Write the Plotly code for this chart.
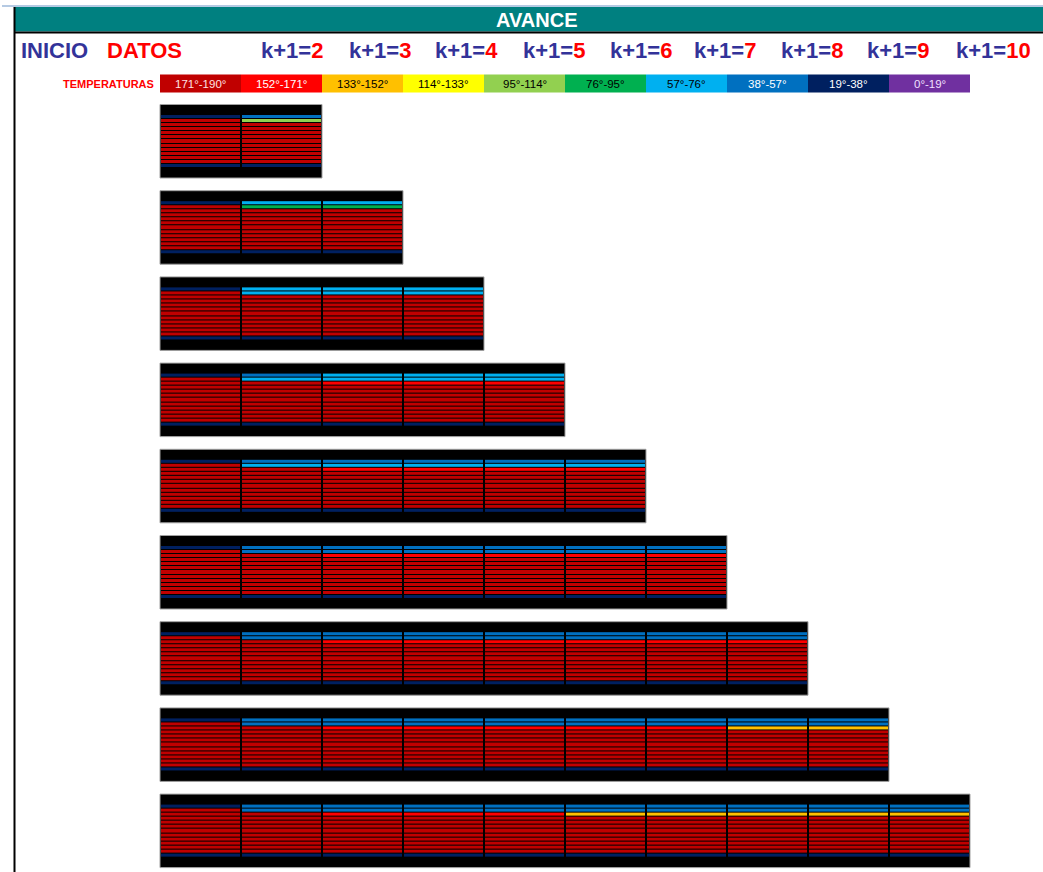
import plotly.graph_objects as go

# ---------------- data ----------------
legend_labels = ["171°-190°", "152°-171°", "133°-152°", "114°-133°", "95°-114°",
                 "76°-95°", "57°-76°", "38°-57°", "19°-38°", "0°-19°"]
legend_colors = ["#C00000", "#FF0000", "#FFC000", "#FFFF00", "#92D050",
                 "#00B050", "#00B0F0", "#0070C0", "#002060", "#7030A0"]
legend_text_colors = ["#FFE0E0", "#FFFFFF", "#000000", "#000000", "#000000",
                      "#000000", "#000000", "#FFFFFF", "#FFFFFF", "#F0E0FF"]

step_labels = ["2", "3", "4", "5", "6", "7", "8", "9", "10"]

# category index per cell (0 = 171-190 ... 9 = 0-19); only the top three rows vary,
# the remaining interior rows stay 171-190 and the last row stays 19-38
initial_top = [8, 0, 0]
block_top_rows = [
    [initial_top, [7, 4, 0]],
    [initial_top, [6, 5, 0], [6, 5, 0]],
    [initial_top, [6, 6, 0], [6, 6, 0], [6, 6, 0]],
    [initial_top, [7, 6, 0], [6, 6, 1], [6, 6, 1], [6, 6, 1]],
    [initial_top, [7, 6, 0], [7, 6, 1], [7, 6, 1], [7, 6, 1], [7, 6, 1]],
    [initial_top, [7, 7, 0], [7, 7, 1], [7, 7, 1], [7, 7, 1], [7, 7, 1], [7, 7, 1]],
    [initial_top, [7, 7, 0], [7, 7, 1], [7, 7, 1], [7, 7, 1], [7, 7, 1], [7, 7, 1], [7, 7, 1]],
    [initial_top, [7, 7, 0], [7, 7, 1], [7, 7, 1], [7, 7, 1], [7, 7, 1], [7, 7, 1], [7, 7, 2], [7, 7, 2]],
    [initial_top, [7, 7, 0], [7, 7, 1], [7, 7, 1], [7, 7, 1], [7, 7, 2], [7, 7, 2], [7, 7, 2], [7, 7, 2], [7, 7, 2]],
]
interior_code = 0
bottom_code = 8
n_rows = 13

# ---------------- layout helpers ----------------
W, H = 1043, 872
X0 = 160.0
COLW = 81.0
BLOCK_TOP0 = 104.5
BLOCK_PITCH = 86.2
BAND_TOP = 10.5
ROW_H = 4.08
BLOCK_H = 73.5

n_cat = len(legend_colors)
colorscale = []
for i, c in enumerate(legend_colors):
    colorscale.append([i / n_cat, c])
    colorscale.append([(i + 1) / n_cat, c])

fig = go.Figure()
shapes = []
annotations = []

# top decorations
shapes.append(dict(type="line", x0=2, x1=W, y0=6, y1=6, line=dict(color="#9DB9DA", width=1.5), layer="below"))
shapes.append(dict(type="rect", x0=15, x1=W, y0=7, y1=31.5, fillcolor="#008080", line=dict(width=0), layer="below"))
shapes.append(dict(type="rect", x0=15, x1=W, y0=31.5, y1=33.5, fillcolor="#000000", line=dict(width=0), layer="below"))
shapes.append(dict(type="rect", x0=13.5, x1=15.5, y0=7, y1=H, fillcolor="#000000", line=dict(width=0), layer="below"))

annotations.append(dict(x=536, y=20, text="AVANCE", showarrow=False, xanchor="center", yanchor="middle",
                        font=dict(family="Arial, Liberation Sans", size=20, color="#FFFFFF", weight="bold")))
annotations.append(dict(x=19, y=50, text="INICIO", showarrow=False, xanchor="left", yanchor="middle",
                        font=dict(family="Arial, Liberation Sans", size=22, color="#333399", weight="bold")))
annotations.append(dict(x=105, y=50, text="DATOS", showarrow=False, xanchor="left", yanchor="middle",
                        font=dict(family="Arial, Liberation Sans", size=22, color="#FF0000", weight="bold")))
step_x = [259, 347, 433, 521, 608, 692, 779, 865, 954]
for sx, lab in zip(step_x, step_labels):
    annotations.append(dict(x=sx, y=50, text=f"k+1=<span style='color:#FF0000'>{lab}</span>",
                            showarrow=False, xanchor="left", yanchor="middle",
                            font=dict(family="Arial, Liberation Sans", size=22, color="#333399", weight="bold")))

# legend row
annotations.append(dict(x=156, y=83.5, text="TEMPERATURAS", showarrow=False, xanchor="right", yanchor="middle",
                        font=dict(family="Arial, Liberation Sans", size=11, color="#FF0000", weight="bold")))
fig.add_trace(go.Heatmap(
    z=[list(range(n_cat))], x0=X0 + COLW / 2, dx=COLW, y0=83.5, dy=18,
    zmin=-0.5, zmax=n_cat - 0.5, colorscale=colorscale, showscale=False, hoverinfo="skip"))
for i, (lab, tc) in enumerate(zip(legend_labels, legend_text_colors)):
    annotations.append(dict(x=X0 + COLW * (i + 0.5), y=83.5, text=lab, showarrow=False,
                            xanchor="center", yanchor="middle",
                            font=dict(family="Arial, Liberation Sans", size=11.5, color=tc)))

# blocks
for b, cols in enumerate(block_top_rows):
    top = BLOCK_TOP0 + BLOCK_PITCH * b
    ncols = len(cols)
    shapes.append(dict(type="rect", x0=X0, x1=X0 + COLW * ncols, y0=top, y1=top + BLOCK_H,
                       fillcolor="#000000", line=dict(color="#A0A0A0", width=1), layer="below"))
    z = []
    for r in range(n_rows):
        row = []
        for c in cols:
            if r < len(c):
                row.append(c[r])
            elif r == n_rows - 1:
                row.append(bottom_code)
            else:
                row.append(interior_code)
        z.append(row)
    fig.add_trace(go.Heatmap(
        z=z, x0=X0 + COLW / 2, dx=COLW, y0=top + BAND_TOP + ROW_H / 2, dy=ROW_H,
        zmin=-0.5, zmax=n_cat - 0.5, colorscale=colorscale, showscale=False,
        xgap=2, ygap=1, hoverinfo="skip"))

fig.update_layout(
    width=W, height=H, margin=dict(l=0, r=0, t=0, b=0),
    paper_bgcolor="#FFFFFF", plot_bgcolor="#FFFFFF",
    xaxis=dict(range=[0, W], visible=False, fixedrange=True),
    yaxis=dict(range=[H, 0], visible=False, fixedrange=True),
    shapes=shapes, annotations=annotations, showlegend=False,
)

fig.write_html("out.html", config={"displayModeBar": False},
               post_script="document.body.style.margin='0px';document.body.style.overflow='hidden';")
